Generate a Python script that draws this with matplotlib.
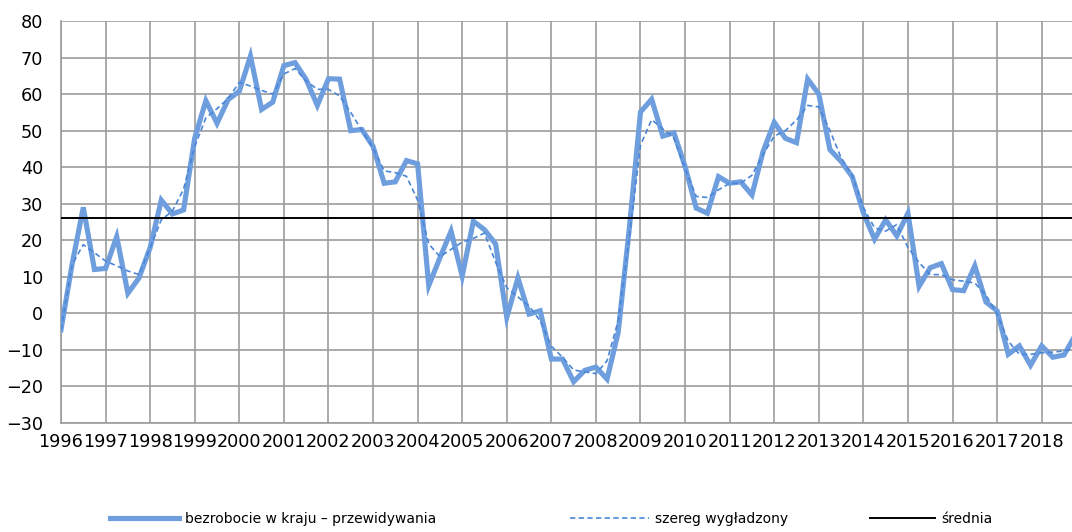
import matplotlib
matplotlib.use("Agg")
import matplotlib.pyplot as plt
import numpy as np

years = list(range(1996, 2019))

forecast = [
    -4.5, 13.5, 29.0, 12.0,
    12.3, 21.0, 5.5, 9.7,
    18.0, 31.0, 27.2, 28.3,
    48.0, 58.2, 52.0, 58.5,
    60.8, 70.4, 55.8, 57.8,
    67.8, 68.6, 64.0, 56.9,
    64.2, 64.1, 50.0, 50.3,
    45.7, 35.6, 36.0, 41.8,
    40.9, 7.6, 15.2, 22.5,
    10.2, 25.2, 22.9, 19.0,
    -1.1, 9.7, -0.2, 0.7,
    -12.5, -12.5, -18.7, -15.6,
    -14.7, -18.0, -5.2, 23.4,
    55.1, 58.6, 48.5, 49.4,
    40.2, 28.8, 27.4, 37.4,
    35.6, 36.0, 32.4, 44.3,
    52.3, 47.9, 46.7, 64.1,
    60.0, 44.8, 41.6, 37.4,
    27.5, 20.3, 25.6, 21.2,
    27.4, 7.4, 12.5, 13.6,
    6.5, 6.2, 13.0, 3.1,
    0.7, -11.2, -8.9, -14.2,
    -8.9, -12.0, -11.4, -6.0,
]

smoothed = [
    -4.5, 13.4, 18.8, 16.6,
    14.3, 13.0, 11.6, 10.6,
    18.0, 25.6, 28.0, 34.0,
    45.7, 53.5, 56.0, 58.8,
    63.2, 62.2, 61.0, 60.0,
    65.5, 67.0, 63.6, 61.3,
    61.3, 59.5, 55.0, 50.0,
    45.3, 39.0, 38.5, 37.5,
    31.0, 19.0, 15.5, 17.5,
    19.5, 20.5, 22.0, 14.0,
    7.0, 4.5, 2.0, -2.0,
    -9.0, -12.0, -15.5, -16.0,
    -16.5, -13.0, -2.0, 21.0,
    46.0, 53.0, 50.5, 48.0,
    39.6, 32.0, 31.7, 33.8,
    35.6, 35.6, 37.8, 43.5,
    48.5, 50.0, 52.9, 56.9,
    56.5, 50.0, 42.6, 37.8,
    29.0, 23.4, 22.5, 24.3,
    18.0, 13.9, 10.6, 10.6,
    9.2, 8.8, 8.3, 5.0,
    -0.2, -7.6, -11.2, -11.2,
    -10.8, -10.6, -10.3, -9.5,
]

mean_value = 26.2

labels = ["bezrobocie w kraju \u2013 przewidywania", "szereg wyg\u0142adzony", "\u015brednia"]

plt.rcParams['font.family'] = ['DejaVu Sans']

fig = plt.figure(figsize=(10.72, 5.32), dpi=100)
ax = fig.add_axes([61/1072, 1 - 423/532, 1 - 61/1072, (423 - 21)/532])

x = np.arange(len(forecast))
grid_c = '#9c9c9c'

l1, = ax.plot(x, forecast, color='#6e9ede', lw=3.7, solid_joinstyle='miter', zorder=3)
l2, = ax.plot(x, smoothed, color='#4a86d8', lw=1.2, dashes=(3.2, 2.0), zorder=4)
l3 = ax.axhline(mean_value, color='black', lw=1.4, zorder=5)

ax.set_xlim(0, 90.72)
ax.set_ylim(-30, 80)
ax.set_yticks(np.arange(-30, 81, 10))
ax.set_xticks(np.arange(0, len(years) * 4, 4))
ax.set_xticklabels([str(y) for y in years])
ax.tick_params(axis='both', length=0, labelsize=12.7, colors='black')
ax.tick_params(axis='y', pad=13)
ax.tick_params(axis='x', pad=7)
ax.grid(True, color=grid_c, lw=1.2)
ax.set_axisbelow(True)
for s in ['top', 'right']:
    ax.spines[s].set_visible(False)
for s in ['left', 'bottom']:
    ax.spines[s].set_color(grid_c)
    ax.spines[s].set_linewidth(1.2)

ly = 1 - 519/532
for handle, lab, xpos, hl in [(l1, labels[0], 110/1072, 5.0),
                              (l2, labels[1], 570/1072, 5.7),
                              (l3, labels[2], 870/1072, 4.7)]:
    leg = fig.legend([handle], [lab], loc='center left', bbox_to_anchor=(xpos, ly),
                     frameon=False, borderpad=0, borderaxespad=0, handlelength=hl,
                     handletextpad=0.4, fontsize=10)

fig.savefig("out.png", dpi=100)
